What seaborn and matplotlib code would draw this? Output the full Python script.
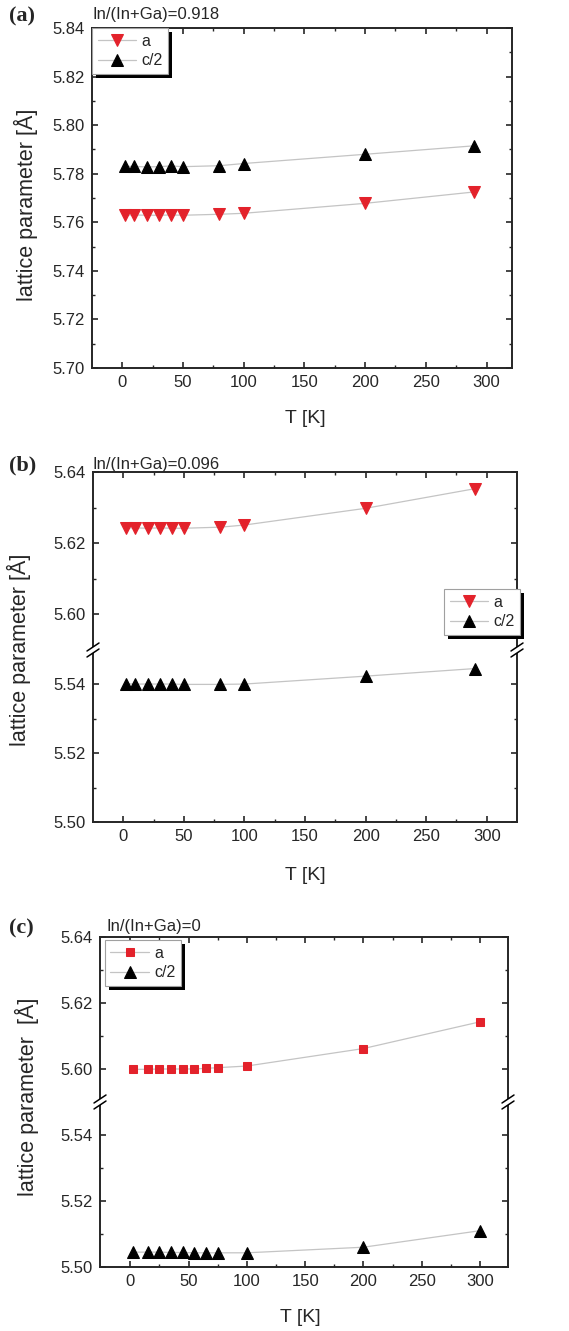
import matplotlib
matplotlib.use("Agg")
import matplotlib.pyplot as plt
import seaborn as sns
from matplotlib.lines import Line2D
from matplotlib.patches import Polygon, Rectangle
from matplotlib.transforms import IdentityTransform
from matplotlib.ticker import FormatStrFormatter

# panel (a): In/(In+Ga)=0.918
t_a = [2, 10, 20, 30, 40, 50, 80, 100, 200, 290]
a_a = [5.7630, 5.7630, 5.7629, 5.7629, 5.7630, 5.7629, 5.7633, 5.7637, 5.7678, 5.7725]
c_a = [5.7830, 5.7830, 5.7828, 5.7829, 5.7832, 5.7829, 5.7833, 5.7842, 5.7880, 5.7915]

# panel (b): In/(In+Ga)=0.096
t_b = [2, 10, 20, 30, 40, 50, 80, 100, 200, 290]
a_b = [5.6243, 5.6243, 5.6242, 5.6243, 5.6242, 5.6242, 5.6245, 5.6251, 5.6298, 5.6353]
c_b = [5.5402, 5.5401, 5.5401, 5.5401, 5.5401, 5.5400, 5.5400, 5.5401, 5.5424, 5.5446]

# panel (c): In/(In+Ga)=0
t_c = [2, 15, 25, 35, 45, 55, 65, 75, 100, 200, 300]
a_c = [5.5999, 5.5999, 5.6000, 5.6000, 5.6000, 5.6000, 5.6002, 5.6004, 5.6009, 5.6062, 5.6143]
c_c = [5.5045, 5.5045, 5.5045, 5.5044, 5.5044, 5.5043, 5.5043, 5.5043, 5.5043, 5.5060, 5.5110]

RED = "#e3222b"
LINE = "#c4c4c4"

sns.set_style("ticks")
plt.rcParams["font.family"] = ["Liberation Sans", "DejaVu Sans"]
plt.rcParams.update({
    "axes.linewidth": 1.4,
    "xtick.direction": "in", "ytick.direction": "in",
    "xtick.top": True, "ytick.right": True,
    "xtick.major.size": 4, "ytick.major.size": 4,
    "xtick.minor.size": 2.5, "ytick.minor.size": 2.5,
    "xtick.major.width": 1.2, "ytick.major.width": 1.2,
    "xtick.minor.width": 1.0, "ytick.minor.width": 1.0,
    "xtick.labelsize": 12, "ytick.labelsize": 12,
})

W, H = 569, 1331
fig = plt.figure(figsize=(W / 100, H / 100), dpi=100)


def box(l, t, r, b):
    return [l / W, 1 - b / H, (r - l) / W, (b - t) / H]


def series(ax, t, y, marker, color, label, ms=8):
    sns.lineplot(x=t, y=y, ax=ax, color=LINE, linewidth=0.9, marker=marker,
                 markersize=ms, markerfacecolor=color, markeredgecolor=color,
                 label=label, legend=False, sort=False)


def style_x(ax, xlim, labels=True, top=True, bottom=True):
    ax.set_xlim(*xlim)
    ax.set_xticks(range(0, 301, 50))
    ax.set_xticks(range(25, 301, 50), minor=True)
    ax.tick_params(axis="x", which="both", top=top, bottom=bottom,
                   labelbottom=labels, pad=5)
    ax.set_xlabel("")
    ax.set_ylabel("")


def style_y(ax, lim, major, minor):
    ax.set_ylim(*lim)
    ax.set_yticks(major)
    ax.set_yticks(minor, minor=True)
    ax.yaxis.set_major_formatter(FormatStrFormatter("%.2f"))
    ax.tick_params(axis="y", which="both", left=True, right=True, pad=5)


legends = []


def make_legend(ax, handles, labels, **kw):
    leg = ax.legend(handles, labels, fancybox=False, framealpha=1,
                    edgecolor="#a0a0a0", fontsize=11.5, handlelength=2.4,
                    handletextpad=0.35, labelspacing=0.3, borderpad=0.35,
                    borderaxespad=0, **kw)
    leg.get_frame().set_linewidth(0.8)
    leg.set_zorder(10)
    legends.append((ax, leg))
    return leg


def break_marks(xpix, ypix):
    x0, x1 = (xpix - 6) / W, (xpix + 6) / W
    poly = [(x0, 1 - (ypix + 1) / H), (x1, 1 - (ypix - 7) / H),
            (x1, 1 - (ypix - 1) / H), (x0, 1 - (ypix + 7) / H)]
    fig.add_artist(Polygon(poly, closed=True, facecolor="white", edgecolor="none"))
    for dy in (-3, 3):
        fig.add_artist(Line2D([x0, x1], [1 - (ypix + dy + 4) / H, 1 - (ypix + dy - 4) / H],
                              color="k", lw=1.1))


def headers(letter, text, ypix, xtext):
    fig.text(9 / W, 1 - ypix / H, letter, fontsize=16, fontweight="bold",
             family="Liberation Serif", va="center", ha="left")
    fig.text(xtext / W, 1 - (ypix - 1) / H, text, fontsize=12, va="center", ha="left")


def labels(xc, yx, xl, yl, text):
    fig.text(xc / W, 1 - yx / H, "T [K]", fontsize=14, ha="center", va="center")
    fig.text(xl / W, 1 - yl / H, text, fontsize=15.5, rotation=90,
             ha="center", va="center")


# ---------- (a)
ax = fig.add_axes(box(92, 28, 512, 368))
series(ax, t_a, a_a, "v", RED, "a")
series(ax, t_a, c_a, "^", "black", "c/2")
style_x(ax, (-25, 321))
style_y(ax, (5.70, 5.84), [5.70 + 0.02 * i for i in range(8)],
        [5.71 + 0.02 * i for i in range(7)])
h, l = ax.get_legend_handles_labels()
make_legend(ax, h, l, loc="upper left", bbox_to_anchor=(0.0, 1.0))
headers("(a)", "In/(In+Ga)=0.918", 16, 92)
labels(305, 418, 26, 205, "lattice parameter [Å]")

# ---------- (b)
bt = fig.add_axes(box(93, 472, 517, 650))
bb = fig.add_axes(box(93, 650, 517, 822))
series(bt, t_b, a_b, "v", RED, "a")
series(bb, t_b, c_b, "^", "black", "c/2")
for a_, top, bottom, lab in ((bt, True, False, False), (bb, False, True, True)):
    style_x(a_, (-25, 325), labels=lab, top=top, bottom=bottom)
bt.spines["bottom"].set_visible(False)
bb.spines["top"].set_visible(False)
style_y(bt, (5.59, 5.64), [5.60, 5.62, 5.64], [5.59, 5.61, 5.63])
style_y(bb, (5.50, 5.55), [5.50, 5.52, 5.54], [5.51, 5.53, 5.55])
h1, l1 = bt.get_legend_handles_labels()
h2, l2 = bb.get_legend_handles_labels()
make_legend(bt, h1 + h2, l1 + l2, loc="upper right", bbox_to_anchor=(1.008, 0.343))
break_marks(93, 650)
break_marks(517, 650)
headers("(b)", "In/(In+Ga)=0.096", 465, 93)
labels(305, 875, 19, 650, "lattice parameter [Å]")

# ---------- (c)
ct = fig.add_axes(box(100, 937, 508, 1102))
cb = fig.add_axes(box(100, 1102, 508, 1267))
series(ct, t_c, a_c, "s", RED, "a", ms=6)
series(cb, t_c, c_c, "^", "black", "c/2")
for a_, top, bottom, lab in ((ct, True, False, False), (cb, False, True, True)):
    style_x(a_, (-26, 324), labels=lab, top=top, bottom=bottom)
ct.spines["bottom"].set_visible(False)
cb.spines["top"].set_visible(False)
style_y(ct, (5.59, 5.64), [5.60, 5.62, 5.64], [5.59, 5.61, 5.63])
style_y(cb, (5.50, 5.55), [5.50, 5.52, 5.54], [5.51, 5.53, 5.55])
h1, l1 = ct.get_legend_handles_labels()
h2, l2 = cb.get_legend_handles_labels()
make_legend(ct, h1 + h2, l1 + l2, loc="upper left", bbox_to_anchor=(0.012, 0.982))
break_marks(100, 1102)
break_marks(508, 1102)
headers("(c)", "In/(In+Ga)=0", 928, 107)
labels(300, 1317, 27, 1097, "lattice parameter  [Å]")

# Origin-style solid black legend shadows
fig.canvas.draw()
for ax_, leg in legends:
    bbx = leg.get_window_extent()
    ax_.add_patch(Rectangle((bbx.x0 + 4, bbx.y0 - 4), bbx.width, bbx.height,
                            transform=IdentityTransform(), facecolor="black",
                            edgecolor="none", zorder=9, clip_on=False))

fig.savefig("out.png", dpi=100)
